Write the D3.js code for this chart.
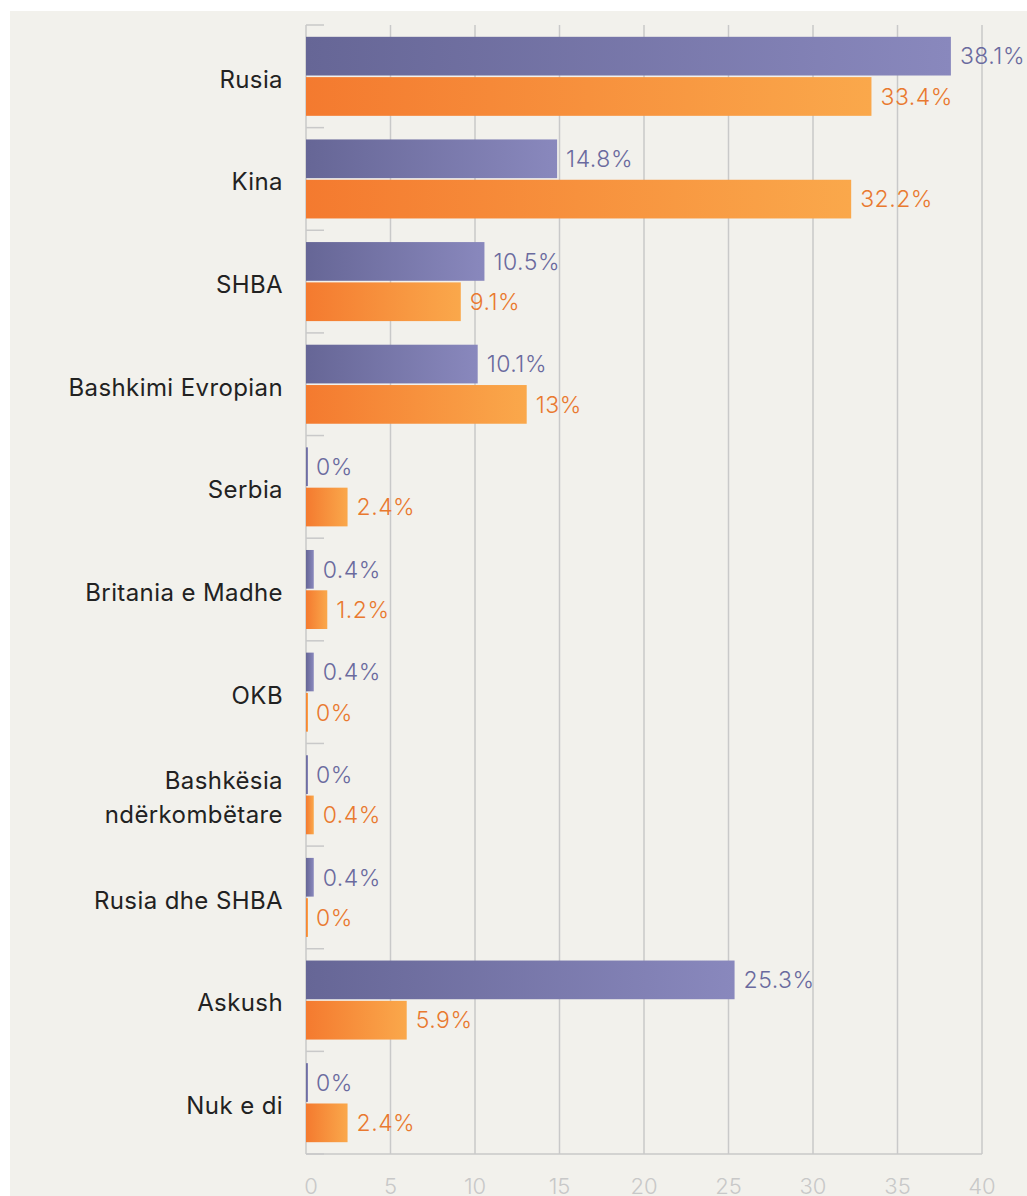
<!DOCTYPE html>
<html><head><meta charset="utf-8">
<script src="https://cdn.jsdelivr.net/npm/d3@7"></script>
<style>body{margin:0;background:#fff;overflow:hidden}</style>
</head><body><svg id="c" width="1027" height="1196"></svg>
<script>
const categories = ["Rusia","Kina","SHBA","Bashkimi Evropian","Serbia","Britania e Madhe","OKB","Bashkësia\nndërkombëtare","Rusia dhe SHBA","Askush","Nuk e di"];
const seriesA = [38.1,14.8,10.5,10.1,0,0.4,0.4,0,0.4,25.3,0];
const seriesB = [33.4,32.2,9.1,13,2.4,1.2,0,0.4,0,5.9,2.4];
const seriesKeys = ["a","b"];
const xTicks = [0,5,10,15,20,25,30,35,40];

const svg = d3.select("#c");
const W = 1027, H = 1196;
const m = {left:306, right:45, top:25, bottom:42};
const plotBottom = H - m.bottom;
const FONT = "Inter, 'Open Sans', sans-serif";

svg.append("rect").attr("x",10).attr("y",11).attr("width",W-10).attr("height",H-11).attr("fill","#f2f1ec");

const x = d3.scaleLinear().domain([0,40]).range([m.left, W-m.right]);
const y = d3.scaleBand().domain(categories).range([m.top, plotBottom]).paddingInner(0.23).paddingOuter(0.115);
const ySub = d3.scaleBand().domain(seriesKeys).range([0, y.bandwidth()]).paddingInner(0.04);

const defs = svg.append("defs");
const gA = defs.append("linearGradient").attr("id","gA");
gA.append("stop").attr("offset","0%").attr("stop-color","#666696");
gA.append("stop").attr("offset","100%").attr("stop-color","#8988bd");
const gB = defs.append("linearGradient").attr("id","gB");
gB.append("stop").attr("offset","0%").attr("stop-color","#f47a2f");
gB.append("stop").attr("offset","100%").attr("stop-color","#faa84b");

// grid
svg.append("g").selectAll("line").data(xTicks.slice(1)).join("line")
  .attr("x1",d=>x(d)).attr("x2",d=>x(d)).attr("y1",m.top).attr("y2",plotBottom)
  .attr("stroke","#c9c9c9").attr("stroke-width",1.5);

// left axis
const bounds = d3.range(categories.length+1).map(i => m.top + i*(plotBottom-m.top)/categories.length);
svg.append("line").attr("x1",m.left).attr("x2",m.left).attr("y1",m.top).attr("y2",plotBottom).attr("stroke","#c9c9c9").attr("stroke-width",1.5);
svg.append("g").selectAll("line").data(bounds).join("line")
  .attr("x1",m.left).attr("x2",m.left+18).attr("y1",d=>d).attr("y2",d=>d).attr("stroke","#c9c9c9").attr("stroke-width",1.5);

// bottom axis
svg.append("line").attr("x1",m.left).attr("x2",x(40)).attr("y1",plotBottom).attr("y2",plotBottom).attr("stroke","#c9c9c9").attr("stroke-width",1.5);
svg.append("g").selectAll("text").data(xTicks).join("text")
  .attr("x",d=>x(d)+(d===0?5:0)).attr("y",plotBottom+40).attr("text-anchor","middle")
  .attr("font-family",FONT).attr("font-weight",300).attr("font-size",22).attr("fill","#c8c8c8").text(d=>d);

// bars
const series = [{key:"a",vals:seriesA,fill:"url(#gA)",color:"#6a6a9e"},{key:"b",vals:seriesB,fill:"url(#gB)",color:"#e9792f"}];
series.forEach(s=>{
  const g = svg.append("g");
  g.selectAll("rect").data(categories).join("rect")
    .attr("x",x(0)).attr("y",(c)=>y(c)+ySub(s.key))
    .attr("width",(c,i)=>Math.max(2, x(s.vals[i])-x(0)+1)).attr("height",ySub.bandwidth())
    .attr("fill",s.fill);
  g.selectAll("text").data(categories).join("text")
    .attr("x",(c,i)=>x(s.vals[i])+10).attr("y",(c)=>y(c)+ySub(s.key)+ySub.bandwidth()/2)
    .attr("dy","0.36em").attr("font-family",FONT).attr("font-weight",300).attr("font-size",23)
    .attr("letter-spacing","0.5px")
    .attr("fill",s.color).text((c,i)=>s.vals[i]+"%");
});

// category labels
const lab = svg.append("g");
categories.forEach(c=>{
  const lines = c.split("\n");
  const cy = y(c)+y.bandwidth()/2 + 3;
  const t = lab.append("text").attr("x",283).attr("text-anchor","end")
    .attr("font-family",FONT).attr("font-size",24).attr("letter-spacing","0.4px").attr("fill","#222");
  lines.forEach((l,i)=>{
    t.append("tspan").attr("x",283).attr("y",cy + (i-(lines.length-1)/2)*34).attr("dy","0.35em").text(l);
  });
});
</script></body></html>
